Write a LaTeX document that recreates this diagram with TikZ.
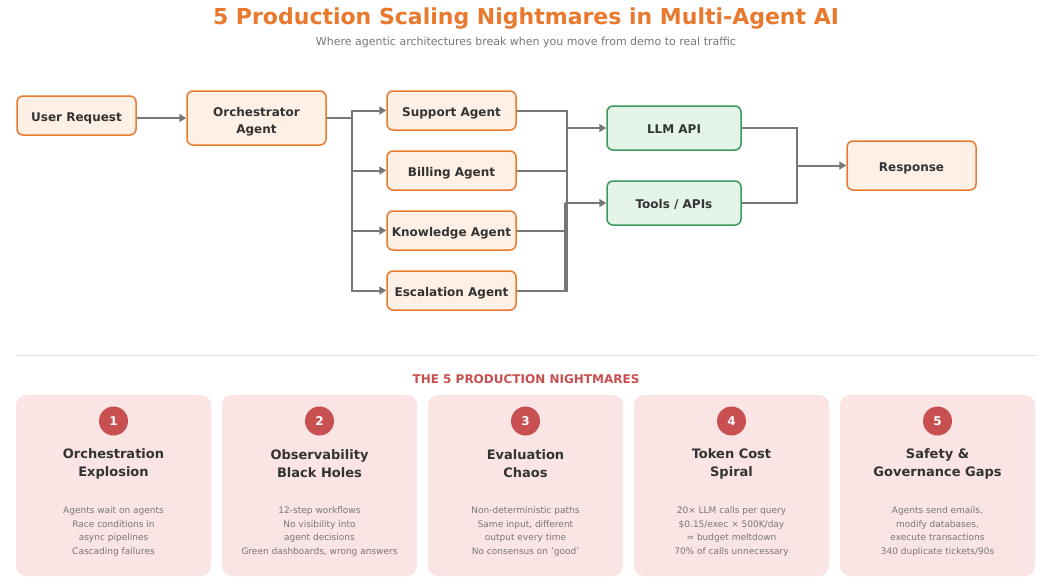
\documentclass[tikz,border=0pt]{standalone}
\usepackage{fontspec}
\setmainfont{DejaVu Sans}
\usetikzlibrary{arrows.meta}
\definecolor{orng}{HTML}{E87A2E}
\definecolor{orngfill}{HTML}{FEF0E4}
\definecolor{grn}{HTML}{3A9A5B}
\definecolor{grnfill}{HTML}{E5F4E8}
\definecolor{conncol}{HTML}{777777}
\definecolor{dark}{HTML}{333333}
\definecolor{subgray}{HTML}{777777}
\definecolor{cardfill}{HTML}{FBE4E4}
\definecolor{badge}{HTML}{C85050}
\definecolor{hdrred}{HTML}{C94F4F}
\definecolor{titleorange}{HTML}{E8792E}
\definecolor{divider}{HTML}{DDDDDD}
\tikzset{
  boxbase/.style={line width=1.5pt, rounded corners=6pt, inner sep=0pt, align=center,
    text=dark, font=\fontsize{12}{17}\selectfont\bfseries, text height=11pt, text depth=0pt},
  obox/.style={boxbase, draw=orng, fill=orngfill},
  gbox/.style={boxbase, draw=grn, fill=grnfill},
  conn/.style={draw=conncol, line width=2pt},
  arr/.style={conn, -{Triangle[length=7pt,width=8pt]}},
  card/.style={fill=cardfill, rounded corners=10pt, minimum width=195pt, minimum height=181pt, inner sep=0pt},
  badgec/.style={circle, fill=badge, minimum size=29pt, inner sep=0pt, text=white, font=\fontsize{12}{14}\selectfont\bfseries},
  ctitle/.style={align=center, text=dark, font=\fontsize{13}{18}\selectfont\bfseries},
  cdesc/.style={align=center, text=subgray, font=\fontsize{9}{13.5}\selectfont},
}
\begin{document}
\begin{tikzpicture}[x=1pt,y=-1pt]
\useasboundingbox[fill=white] (0,0) rectangle (1040,582);
% titles
\node[text=titleorange, font=\fontsize{22}{26}\selectfont\bfseries] (title) at (526,19) {5 Production Scaling Nightmares in Multi-Agent AI};
\node[text=subgray, font=\fontsize{11}{13}\selectfont] (subtitle) at (526,42.5) {Where agentic architectures break when you move from demo to real traffic};
% flow nodes
\node[obox, minimum width=119pt, minimum height=39pt] (user) at (76.5,115.5) {User Request};
\node[obox, minimum width=139pt, minimum height=54pt, text height=30pt, text depth=0pt] (orch) at (256.5,118) {Orchestrator\\Agent};
\node[obox, minimum width=129pt, minimum height=39pt] (support) at (451.5,110.5) {Support Agent};
\node[obox, minimum width=129pt, minimum height=39pt] (billing) at (451.5,170.5) {Billing Agent};
\node[obox, minimum width=129pt, minimum height=39pt] (knowledge) at (451.5,230.5) {Knowledge Agent};
\node[obox, minimum width=129pt, minimum height=39pt] (escalation) at (451.5,290.5) {Escalation Agent};
\node[gbox, minimum width=134pt, minimum height=44pt] (llm) at (674,128) {LLM API};
\node[gbox, minimum width=134pt, minimum height=44pt] (tools) at (674,203) {Tools / APIs};
\node[obox, minimum width=129pt, minimum height=49pt] (resp) at (911.5,165.5) {Response};
% junctions
\coordinate (fork) at (352,118);
\coordinate (j1) at (567,128);
\coordinate (j2) at (565,203);
\coordinate (j3) at (797,165.5);
% connectors
\draw[arr] (user.east |- orch.west) -- (orch.west);
\draw[conn] (orch.east) -- (fork);
\draw[arr] (fork) |- (support.west);
\draw[arr] (fork) |- (billing.west);
\draw[arr] (fork) |- (knowledge.west);
\draw[arr] (fork) |- (escalation.west);
\draw[conn] (support.east) -| (j1);
\draw[conn] (billing.east) -| (j1);
\draw[conn] (knowledge.east) -| (j1);
\draw[conn] (escalation.east) -| (j1);
\draw[arr] (j1) -- (llm.west);
\draw[conn] (knowledge.east) -| (j2);
\draw[conn] (escalation.east) -| (j2);
\draw[arr] (j2) -- (tools.west);
\draw[conn] (llm.east) -| (j3);
\draw[conn] (tools.east) -| (j3);
\draw[arr] (j3) -- (resp.west);
% divider
\coordinate (dl) at (16,355.5);
\coordinate (dr) at (1036,355.5);
\draw[divider, line width=1pt] (dl) -- (dr);
\node[text=hdrred, font=\fontsize{12}{14}\selectfont\bfseries] (hdr) at (526,379.5) {THE 5 PRODUCTION NIGHTMARES};
% cards
\foreach \i/\cx/\tt/\dd in {
  1/113.5/{Orchestration\\Explosion}/{Agents wait on agents\\Race conditions in\\async pipelines\\Cascading failures},
  2/319.5/{Observability\\Black Holes}/{12-step workflows\\No visibility into\\agent decisions\\Green dashboards, wrong answers},
  3/525.5/{Evaluation\\Chaos}/{Non-deterministic paths\\Same input, different\\output every time\\No consensus on 'good'},
  4/731.5/{Token Cost\\Spiral}/{20× LLM calls per query\\\$0.15/exec × 500K/day\\= budget meltdown\\70\% of calls unnecessary},
  5/937.5/{Safety \&\\Governance Gaps}/{Agents send emails,\\modify databases,\\execute transactions\\340 duplicate tickets/90s}} {
  \node[card] (card\i) at (\cx,485.5) {};
  \node[badgec] (badge\i) at (\cx,421) {\i};
  \node[ctitle] (ct\i) at (\cx,464) {\tt};
  \node[cdesc] (cd\i) at (\cx,531.5) {\dd};
}
\end{tikzpicture}
\end{document}
